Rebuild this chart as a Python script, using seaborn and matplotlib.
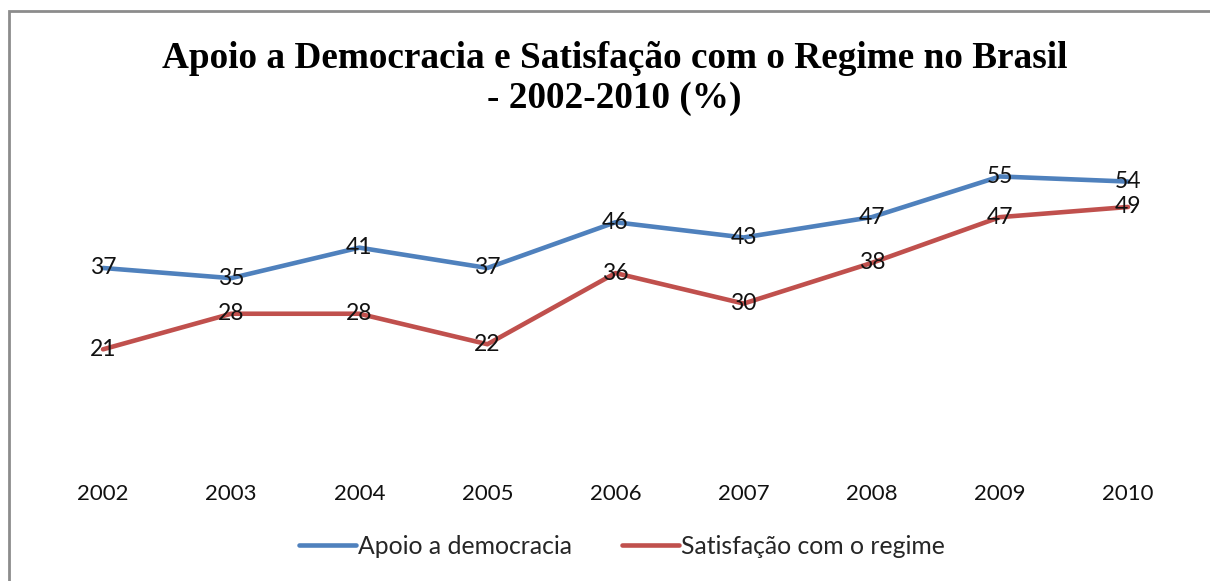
import pandas as pd
import seaborn as sns
import matplotlib.pyplot as plt
from matplotlib.patches import Rectangle

anos = ["2002", "2003", "2004", "2005", "2006", "2007", "2008", "2009", "2010"]
apoio = [37, 35, 41, 37, 46, 43, 47, 55, 54]
satisfacao = [21, 28, 28, 22, 36, 30, 38, 47, 49]
series = ["Apoio a democracia", "Satisfação com o regime"]
cores = ["#4F81BD", "#C0504D"]

df = pd.DataFrame({"ano": anos * 2,
                   "valor": apoio + satisfacao,
                   "serie": [series[0]] * len(anos) + [series[1]] * len(anos)})
df["pos"] = list(range(len(anos))) * 2

sns.set_style("white")
plt.rcParams['font.family'] = ['Lato', 'DejaVu Sans']

fig = plt.figure(figsize=(12.1, 5.81), dpi=100)
ax = fig.add_axes([0.0322, 0.215, 0.953, 0.525])

sns.lineplot(data=df, x="pos", y="valor", hue="serie", palette=cores,
             linewidth=3.3, ax=ax, legend=False)

# rótulos de dados centrados nos pontos
for serie in series:
    sub = df[df["serie"] == serie]
    for _, r in sub.iterrows():
        ax.text(r["pos"], r["valor"], str(r["valor"]), ha="center", va="center",
                fontsize=16.5, color="#111111")

ax.set_xlim(-0.5, len(anos) - 0.5)
ax.set_ylim(0, 60)
ax.set_xticks(range(len(anos)))
ax.set_xticklabels(anos, fontsize=16, color="#111111")
ax.set_yticks([])
ax.tick_params(axis="x", length=0, pad=20)
ax.set_xlabel("")
ax.set_ylabel("")
for s in ax.spines.values():
    s.set_visible(False)

fig.text(0.508, 0.865, "Apoio a Democracia e Satisfação com o Regime no Brasil\n- 2002-2010 (%)",
         ha="center", va="center", fontsize=26.8, fontweight="bold", color="black",
         family="Liberation Serif", linespacing=1.2)

handles = [plt.Line2D([], [], color=c, linewidth=3.3) for c in cores]
fig.legend(handles, series, loc="center", bbox_to_anchor=(0.514, 0.06), ncol=2,
           frameon=False, fontsize=17.8, handlelength=2.3, handletextpad=0.1,
           columnspacing=2.0)

fig.patches.append(Rectangle((9 / 1210, -0.1), 1.2, 0.1 + (581 - 11) / 581,
                             transform=fig.transFigure, fill=False,
                             edgecolor="#8c8c8c", linewidth=2))

fig.savefig("out.png", dpi=100)
